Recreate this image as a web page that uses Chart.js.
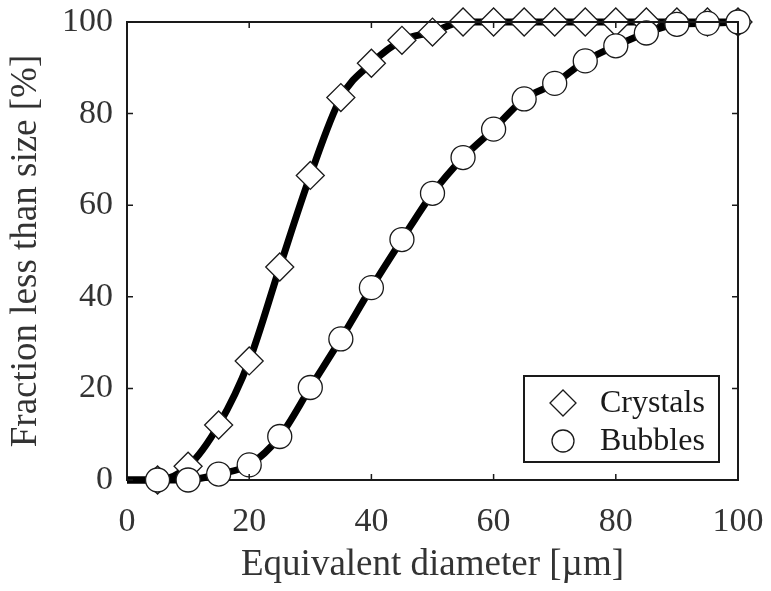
<!DOCTYPE html>
<html>
<head>
<meta charset="utf-8">
<script src="https://cdn.jsdelivr.net/npm/chart.js@4/dist/chart.umd.min.js"></script>
<style>
  body { margin: 0; background: #fff; }
  #wrap { width: 771px; height: 591px; }
</style>
</head>
<body>
<div id="wrap"><canvas id="myChart" width="771" height="591"></canvas></div>
<script>
// Equivalent diameter [um]
var diameters = [0, 5, 10, 15, 20, 25, 30, 35, 40, 45, 50, 55, 60, 65, 70, 75, 80, 85, 90, 95, 100];

// Fraction less than size [%]
var crystals = [0, 0, 3, 12, 26, 46.5, 66.5, 83.5, 91, 96, 97.8, 100, 100, 100, 100, 100, 100, 100, 100, 100, 100];
var bubbles  = [0, 0, 0, 1.3, 3.3, 9.5, 20.2, 30.8, 42, 52.5, 62.6, 70.4, 76.6, 83.2, 86.6, 91.5, 94.8, 97.6, 99.5, 99.7, 100];

var xTicks = [0, 20, 40, 60, 80, 100];
var yTicks = [0, 20, 40, 60, 80, 100];

var serif = "'Liberation Serif', 'DejaVu Serif', serif";
var ink = '#1a1a1a';

function toPoints(ys) {
    return diameters.map(function (x, i) { return { x: x, y: ys[i] }; });
}
// no marker on the 0 point
function markerSizes(r) {
    return diameters.map(function (x) { return x === 0 ? 0 : r; });
}

// box around the axes plus inward ticks (MATLAB style)
var boxPlugin = {
    id: 'boxTicks',
    afterDatasetsDraw: function (chart) {
        var ctx = chart.ctx, a = chart.chartArea;
        var xs = chart.scales.x, ys = chart.scales.y;
        ctx.save();
        ctx.strokeStyle = ink;
        ctx.lineWidth = 2;
        ctx.beginPath();
        ctx.moveTo(a.left, a.top);
        ctx.lineTo(a.right, a.top);
        ctx.lineTo(a.right, a.bottom);
        ctx.stroke();
        ctx.lineWidth = 1.5;
        ctx.beginPath();
        xTicks.forEach(function (v) {
            var px = xs.getPixelForValue(v);
            ctx.moveTo(px, a.bottom); ctx.lineTo(px, a.bottom - 6);
            ctx.moveTo(px, a.top); ctx.lineTo(px, a.top + 6);
        });
        yTicks.forEach(function (v) {
            var py = ys.getPixelForValue(v);
            ctx.moveTo(a.left, py); ctx.lineTo(a.left + 6, py);
            ctx.moveTo(a.right, py); ctx.lineTo(a.right - 6, py);
        });
        ctx.stroke();
        ctx.restore();
    }
};

// legend box inside lower right corner
var legendPlugin = {
    id: 'insideLegend',
    afterDraw: function (chart) {
        var ctx = chart.ctx;
        var left = 524, top = 376, w = 195, h = 86;
        ctx.save();
        ctx.fillStyle = '#fff';
        ctx.fillRect(left, top, w, h);
        ctx.strokeStyle = ink;
        ctx.lineWidth = 2;
        ctx.strokeRect(left, top, w, h);
        chart.data.datasets.forEach(function (ds, i) {
            var cy = top + 27 + i * 38;
            ctx.fillStyle = '#fff';
            ctx.strokeStyle = ink;
            ctx.lineWidth = 1.3;
            Chart.helpers.drawPoint(ctx, {
                pointStyle: ds.pointStyle,
                radius: ds.pointStyle === 'circle' ? 11 : 13,
                rotation: 0,
                borderWidth: 1.3
            }, left + 39, cy);
            ctx.fillStyle = ink;
            ctx.font = '32px ' + serif;
            ctx.textBaseline = 'middle';
            ctx.textAlign = 'left';
            ctx.fillText(ds.label, left + 76, cy + 1);
        });
        ctx.restore();
    }
};

var ctx = document.getElementById('myChart').getContext('2d');

var myChart = new Chart(ctx, {
    type: 'line',
    data: {
        datasets: [
            {
                label: 'Crystals',
                data: toPoints(crystals),
                borderColor: '#000',
                borderWidth: 7,
                pointStyle: 'rectRot',
                pointRadius: markerSizes(14),
                pointBackgroundColor: '#fff',
                pointBorderColor: ink,
                pointBorderWidth: 1.3,
                cubicInterpolationMode: 'monotone',
                order: 2
            },
            {
                label: 'Bubbles',
                data: toPoints(bubbles),
                borderColor: '#000',
                borderWidth: 7,
                pointStyle: 'circle',
                pointRadius: markerSizes(12),
                pointBackgroundColor: '#fff',
                pointBorderColor: ink,
                pointBorderWidth: 1.3,
                cubicInterpolationMode: 'monotone',
                order: 1
            }
        ]
    },
    options: {
        responsive: false,
        animation: false,
        clip: false,
        layout: { padding: { left: 0, right: 33, top: 22, bottom: 0 } },
        plugins: {
            legend: { display: false },
            tooltip: { enabled: false }
        },
        scales: {
            x: {
                type: 'linear',
                min: 0, max: 100,
                afterFit: function (s) {
                    s.height = 111;
                    s.paddingLeft = 0; s.paddingRight = 0;
                },
                afterBuildTicks: function (s) { s.ticks = xTicks.map(function (v) { return { value: v }; }); },
                grid: { display: false, drawTicks: false },
                border: { display: true, color: ink, width: 2 },
                ticks: { color: '#333', padding: 22, font: { family: serif, size: 34 } },
                title: {
                    display: true,
                    text: 'Equivalent diameter [µm]',
                    color: '#333',
                    padding: { top: 6 },
                    font: { family: serif, size: 37 }
                }
            },
            y: {
                type: 'linear',
                min: 0, max: 100,
                afterFit: function (s) {
                    s.width = 127;
                    s.paddingTop = 0; s.paddingBottom = 0;
                },
                afterBuildTicks: function (s) { s.ticks = yTicks.map(function (v) { return { value: v }; }); },
                grid: { display: false, drawTicks: false },
                border: { display: true, color: ink, width: 2 },
                ticks: { color: '#333', padding: 14, font: { family: serif, size: 34 } },
                title: {
                    display: true,
                    text: 'Fraction less than size [%]',
                    color: '#333',
                    padding: { bottom: 4 },
                    font: { family: serif, size: 37 }
                }
            }
        }
    },
    plugins: [boxPlugin, legendPlugin]
});
</script>
</body>
</html>
